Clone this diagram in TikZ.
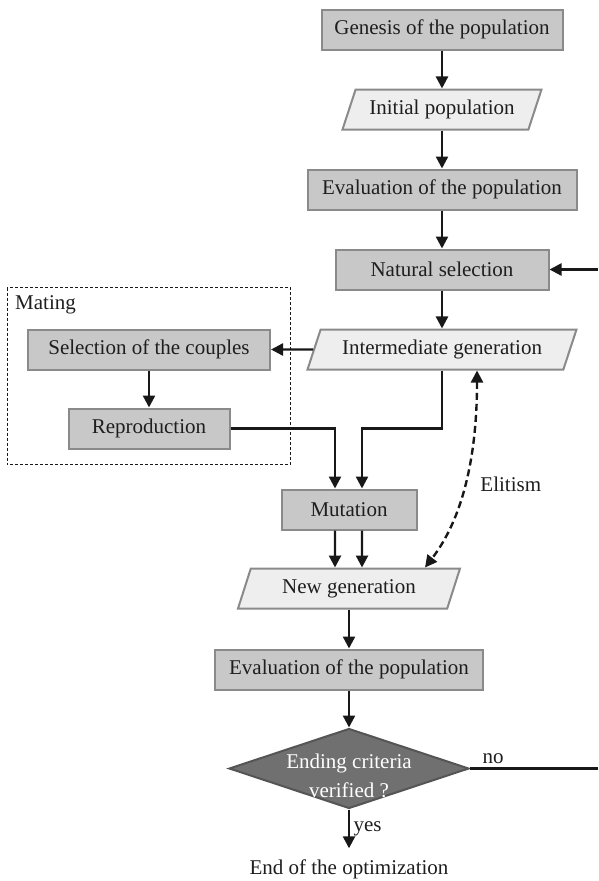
\documentclass[tikz,border=0pt]{standalone}
\usepackage{fontspec}
\setmainfont{Liberation Serif}
\usetikzlibrary{shapes.geometric,arrows.meta,calc}
\definecolor{boxfill}{RGB}{200,200,200}
\definecolor{boxline}{RGB}{138,138,138}
\definecolor{datafill}{RGB}{237,238,237}
\definecolor{decfill}{RGB}{112,112,112}
\definecolor{decline}{RGB}{85,85,85}
\definecolor{arrowc}{RGB}{24,24,24}
\definecolor{textc}{RGB}{30,30,30}
\tikzstyle{block} = [rectangle, draw=boxline, fill=boxfill, line width=2pt,
    minimum height=40pt, text centered, text=textc]
\tikzstyle{data} = [trapezium, trapezium left angle=63, trapezium right angle=117,
    trapezium stretches body, draw=boxline, fill=datafill, line width=2pt,
    minimum height=40pt, text=textc]
\tikzstyle{decision} = [diamond, draw=decline, fill=decfill, line width=2pt,
    minimum width=240pt, minimum height=80pt, inner sep=0pt]
\tikzstyle{line} = [draw=arrowc, line width=2.4pt, -{Triangle[length=12pt,width=12pt]}]
\tikzstyle{elite} = [line, dash pattern=on 7pt off 4pt,
    {Triangle[length=12pt,width=12pt]}-{Triangle[length=12pt,width=12pt]}]
\tikzstyle{matebox} = [draw=arrowc, line width=1pt, dash pattern=on 3pt off 2pt]

\begin{document}
\begin{tikzpicture}[node distance=80pt, font=\fontsize{21}{24}\selectfont, text=textc]
    \useasboundingbox (0,0) rectangle (598pt,-881pt);

    \node [block, minimum width=241pt] at (442pt,-29.5pt) (gen) {Genesis of the population};
    \node [data, minimum width=199pt, below of=gen] (init) {Initial population};
    \node [block, minimum width=269pt, below of=init] (eval) {Evaluation of the population};
    \node [block, minimum width=213pt, below of=eval] (nat) {Natural selection};
    \node [data, minimum width=269pt, below of=nat] (inter) {Intermediate generation};
    \node [block, minimum width=242pt, node distance=293pt, left of=inter] (sel) {Selection of the couples};
    \node [block, minimum width=161pt, node distance=79pt, below of=sel] (rep) {Reproduction};
    \node [block, minimum width=135pt, node distance=160pt, below of=inter, xshift=-93pt] (mut) {Mutation};
    \node [data, minimum width=222pt, node distance=79pt, below of=mut] (newg) {New generation};
    \node [block, minimum width=268pt, node distance=81pt, below of=newg] (eval2) {Evaluation of the population};
    \node [decision, node distance=99pt, below of=eval2,
        label={[text=white, align=center, font=\fontsize{21}{29}\selectfont, yshift=-7pt]center:Ending criteria\\verified ?}] (dec) {};
    \node [node distance=101pt, below of=dec, minimum height=42pt] (stop) {End of the optimization};

    \coordinate (loopin) at ($(nat)+(156pt,0)$);
    \coordinate (noout) at (dec.east -| loopin);

    % mating frame
    \draw[matebox] ($(sel.north west)+(-20pt,41pt)$) coordinate (mtl) rectangle ($(rep.south east)+(60pt,-15pt)$);
    \node [below right, inner sep=8pt] at (mtl) (mating) {Mating};

    % Draw edges
    \path [line] (gen) -- (init);
    \path [line] (init) -- (eval);
    \path [line] (eval) -- (nat);
    \path [line] (loopin) -- (nat);
    \path [line] (nat) -- (inter);
    \path [line] (inter.west) -- (sel.east);
    \path [line] (sel) -- (rep);
    \path [line] (rep.east) -| ($(mut.north)+(-14pt,0)$);
    \path [line] (inter.south) -- (inter.south |- rep.east) -| ($(mut.north)+(13pt,0)$);
    \path [line] ($(mut.south)+(-14pt,0)$) -- ($(newg.north)+(-14pt,0)$);
    \path [line] ($(mut.south)+(13pt,0)$) -- ($(newg.north)+(13pt,0)$);
    \path [elite] ($(inter.south)+(35pt,0)$) .. controls +(0,-88pt) and +(37pt,48pt) .. node[pos=0.5, right=11pt] (elit) {Elitism} ($(newg.north)+(76pt,0)$);
    \path [line] (newg) -- (eval2);
    \path [line] (eval2) -- (dec);
    \path [draw=arrowc, line width=2.4pt] (dec.east) -- node[above, pos=0.18] (no) {no} (noout);
    \path [line] (dec.south) -- node[right] (yes) {yes} (stop.north);

\end{tikzpicture}
\end{document}
